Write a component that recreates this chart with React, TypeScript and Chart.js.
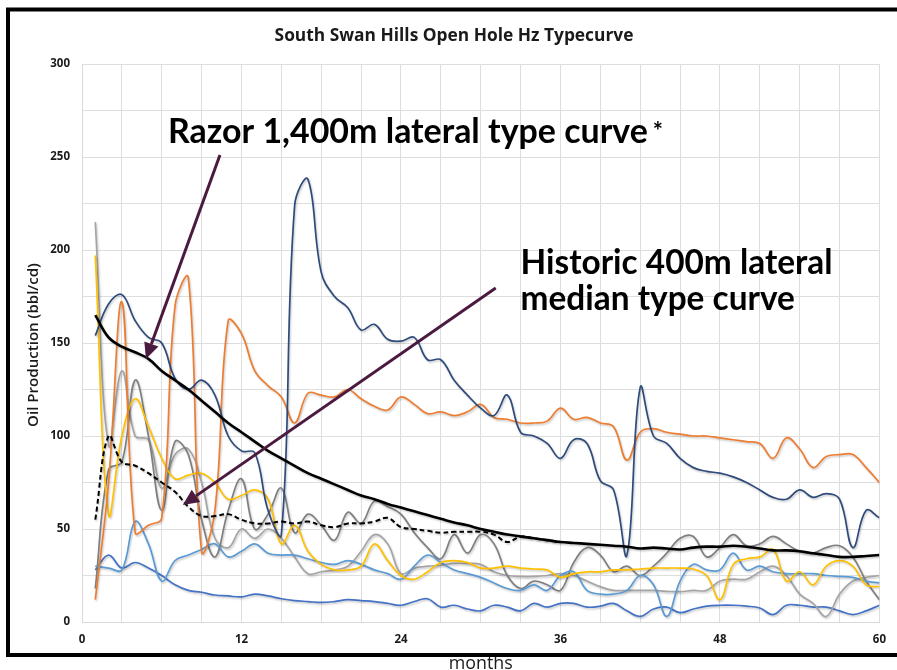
import React, { useEffect, useRef } from "react";
import { Chart, registerables } from "chart.js";

Chart.register(...registerables);

// ---------- data ----------
const MONTHS: number[] = Array.from({ length: 60 }, (_, i) => i + 1);

const TITLE = "South Swan Hills Open Hole Hz Typecurve";
const Y_TITLE = "Oil Production (bbl/cd)";
const X_TITLE = "months";

const X_MIN = 0, X_MAX = 60, X_GRID_STEP = 3, X_LABEL_EVERY = 12;
const Y_MIN = 0, Y_MAX = 300, Y_GRID_STEP = 25, Y_LABEL_EVERY = 50;

const TYPE_CURVE = [165, 153, 148, 145, 141.5, 135, 130, 125, 119, 113, 107, 102, 97, 92, 88, 84, 80, 77, 74, 71, 68, 66, 63.5, 61.5, 59.5, 57.5, 55.5, 53.5, 52, 50, 48.5, 47, 46, 45, 44, 43, 42.5, 42, 41.5, 41, 40.5, 39.5, 40, 39.5, 39, 40, 40.5, 40.5, 41, 40.5, 39.5, 38.5, 38.5, 38, 37, 36, 35, 35, 35.5, 36];

const MEDIAN_CURVE = [55, 100, 86, 84, 80, 75, 70, 62, 57, 57, 58, 55, 53, 53, 54, 53, 54, 52, 51, 53, 53, 54, 56, 51, 50, 49, 48, 48.5, 48.5, 48.5, 47, 43, 46, 45, 44, 43, null, null, null, null, null, null, null, null, null, null, null, null, null, null, null, null, null, null, null, null, null, null, null, null];

const WELL_NAVY = [154, 171, 176, 162, 153, 150, 131, 125, 130, 122, 100, 92, 91, 60, 47, 224, 238, 188, 175, 169, 157, 160, 152, 151, 153, 141, 141, 130, 122, 115, 111, 122, 102, 100, 96, 88, 98, 96, 76, 71, 36, 126, 100, 96, 88, 83, 81, 80, 78, 75, 71, 67, 66, 71, 67, 69, 66, 40, 60, 56];

const WELL_ORANGE = [12, 75, 172, 48, 52, 56, 170, 185, 38, 60, 162, 155, 135, 127, 121, 107, 123, 122, 121, 125, 120, 116, 114, 121, 117, 112, 113, 111, 113, 117, 110, 109, 107, 107, 108, 115, 109, 110, 107, 105, 87, 102, 104, 102, 101, 100, 100, 99, 98, 97, 96, 88, 99, 93, 83, 89, 90, 90, 83, 75];

const WELL_YELLOW = [197, 58, 100, 120, 105, 88, 77, 79, 80, 75, 66, 68, 71, 66, 42, 52, 38, 31, 28, 28, 30, 42, 33, 25, 23, 27, 32, 33, 32, 29, 29, 30, 29, 28.5, 28, 24, 26, 27, 27, 28, 28, 28.5, 29, 29, 29, 28.5, 25, 12, 31, 34, 35, 39, 22, 27, 20, 30, 33, 30, 20, 19];

const WELL_LIGHTBLUE = [30, 29, 28, 54, 42, 22, 33, 36, 39, 42, 35, 38, 42, 37, 36, 36, 34, 32, 31, 33, 31, 28, 26, 23, 30, 36, 32, 28, 26, 24, 21, 18, 17, 20, 17, 25, 27, 17, 15, 15, 17, 25, 20, 3, 22, 31, 28, 28, 37, 28, 30, 27, 26, 26, 26, 25, 24.5, 24, 22, 21];

const WELL_BLUE = [28, 36, 29, 32, 29, 25, 20, 17, 16, 14.5, 14, 13.5, 15, 14, 12.5, 11.5, 11, 10.5, 11, 12, 11.5, 11, 10, 9, 11, 12.5, 8, 9, 7, 6, 9, 8, 6, 10, 8, 10, 10, 8, 8.5, 10, 6, 3, 7, 8, 5, 7, 8.5, 9, 9, 8.5, 7.5, 4, 9, 9, 8, 8, 6, 4, 6, 9];

const WELL_DARKGRAY = [18, 82, 86, 130, 100, 60, 97, 90, 55, 35, 60, 77, 50, 58, 72, 48, 58, 52, 44, 59, 53, 65, 62, 58, 48, 40, 34, 47, 37, 47, 42, 25, 18, 22, 20, 17, 32, 40, 36, 27, 30, 25, 30, 37, 45, 46, 35, 40, 47, 41, 42, 46, 42, 38, 37, 40, 41, 35, 22, 12];

const WELL_LIGHTGRAY = [215, 95, 135, 100, 98, 72, 90, 93, 75, 45, 40, 50, 45, 50, 45, 35, 26, 27, 28, 30, 38, 47, 42, 26, 29, 30, 30.5, 31.5, 31.5, 31, 27, 25, 24.5, 24.5, 25, 26, 25, 22, 19, 17, 17, 17, 17, 16.5, 16.3, 17, 17, 22, 23, 23, 27, 30, 25, 15, 10, 3, 15, 22, 24, 25];

// annotations (in data coordinates: [month, bbl/cd])
const RAZOR_LABEL = "Razor 1,400m lateral type curve";
const RAZOR_LABEL_POS = [6.47, 257.5];
const HISTORIC_LABEL = ["Historic 400m lateral", "median type curve"];
const HISTORIC_LABEL_POS = [[33.0, 187], [33.0, 167.5]];
const ARROWS = [
  { from: [10.38, 251.1], to: [4.81, 141.4] },
  { from: [31.13, 179.6], to: [7.59, 62.9] },
];

// ---------- helpers ----------
const pts = (arr: (number | null)[]) => MONTHS.map((m, i) => ({ x: m, y: arr[i] }));

function fitSize(ctx: CanvasRenderingContext2D, text: string, weight: string, family: string, target: number) {
  ctx.font = `${weight} 40px ${family}`;
  const w = ctx.measureText(text).width;
  return (40 * target) / w;
}

const decorPlugin = {
  id: "decor",
  beforeDatasetDraw(chart: any) {
    const ctx = chart.ctx;
    ctx.save();
    ctx.shadowColor = "rgba(0,0,0,0.22)";
    ctx.shadowBlur = 2;
    ctx.shadowOffsetX = 1;
    ctx.shadowOffsetY = 1.5;
  },
  afterDatasetDraw(chart: any) {
    chart.ctx.restore();
  },
  afterDraw(chart: any) {
    const ctx: CanvasRenderingContext2D = chart.ctx;
    const xs = chart.scales.x, ys = chart.scales.y;
    const ca = chart.chartArea;
    ctx.save();

    // title
    ctx.fillStyle = "#1a1a1a";
    ctx.textAlign = "center";
    ctx.textBaseline = "alphabetic";
    let s = fitSize(ctx, TITLE, "bold", "'Open Sans'", 359);
    ctx.font = `bold ${s}px 'Open Sans'`;
    ctx.fillText(TITLE, 454, 41);

    // y title
    s = fitSize(ctx, Y_TITLE, "600", "'Open Sans'", 164);
    ctx.save();
    ctx.translate(38, (ca.top + ca.bottom) / 2 + 2);
    ctx.rotate(-Math.PI / 2);
    ctx.font = `600 ${s}px 'Open Sans'`;
    ctx.fillText(Y_TITLE, 0, 0);
    ctx.restore();

    // x title
    s = fitSize(ctx, X_TITLE, "normal", "'Open Sans'", 64);
    ctx.font = `normal ${s}px 'Open Sans'`;
    ctx.fillText(X_TITLE, (ca.left + ca.right) / 2, 669);

    // frame
    ctx.strokeStyle = "#000";
    ctx.lineWidth = 4;
    ctx.beginPath();
    ctx.moveTo(900, 9.5);
    ctx.lineTo(8, 9.5);
    ctx.lineTo(8, 655);
    ctx.lineTo(900, 655);
    ctx.stroke();

    // arrows
    ctx.strokeStyle = "#4a1a3f";
    ctx.fillStyle = "#4a1a3f";
    ctx.lineWidth = 3;
    ARROWS.forEach((a) => {
      const x1 = xs.getPixelForValue(a.from[0]), y1 = ys.getPixelForValue(a.from[1]);
      const x2 = xs.getPixelForValue(a.to[0]), y2 = ys.getPixelForValue(a.to[1]);
      const ang = Math.atan2(y2 - y1, x2 - x1);
      const L = 16, W = 7.5;
      const bx = x2 - L * Math.cos(ang), by = y2 - L * Math.sin(ang);
      ctx.beginPath();
      ctx.moveTo(x1, y1);
      ctx.lineTo(bx, by);
      ctx.stroke();
      ctx.beginPath();
      ctx.moveTo(x2, y2);
      ctx.lineTo(bx + W * Math.sin(ang), by - W * Math.cos(ang));
      ctx.lineTo(bx - W * Math.sin(ang), by + W * Math.cos(ang));
      ctx.closePath();
      ctx.fill();
    });

    // annotation texts
    ctx.fillStyle = "#000";
    ctx.textAlign = "left";
    s = fitSize(ctx, RAZOR_LABEL, "bold", "Lato", 480);
    ctx.font = `bold ${s}px Lato`;
    const rx = xs.getPixelForValue(RAZOR_LABEL_POS[0]);
    const ry = ys.getPixelForValue(RAZOR_LABEL_POS[1]);
    ctx.fillText(RAZOR_LABEL, rx, ry);
    const rw = ctx.measureText(RAZOR_LABEL).width;
    ctx.font = `bold 24px Lato`;
    ctx.fillText("*", rx + rw + 5, ry - 3);

    s = fitSize(ctx, HISTORIC_LABEL[0], "bold", "Lato", 312);
    ctx.font = `bold ${s}px Lato`;
    HISTORIC_LABEL.forEach((t, i) => {
      ctx.fillText(t, xs.getPixelForValue(HISTORIC_LABEL_POS[i][0]), ys.getPixelForValue(HISTORIC_LABEL_POS[i][1]));
    });

    ctx.restore();
  },
};

export default function App() {
  const ref = useRef<HTMLCanvasElement | null>(null);

  useEffect(() => {
    if (!ref.current) return;
    const tickFont = { family: "'Open Sans'", size: 11.5, weight: "bold" as const };
    const line = (data: (number | null)[], color: string, width = 1.7, dash: number[] = []) => ({
      data: pts(data),
      borderColor: color,
      backgroundColor: color,
      borderWidth: width,
      borderDash: dash,
      pointRadius: 0,
      tension: 0.4,
      fill: false,
      spanGaps: false,
    });

    const chart = new Chart(ref.current, {
      type: "line",
      data: {
        datasets: [
          { label: "Razor type curve", ...line(TYPE_CURVE, "#000000", 2.6) },
          { label: "Historic median", ...line(MEDIAN_CURVE, "#000000", 2, [5, 3]) },
          { label: "Well 1", ...line(WELL_NAVY, "#2f4b7c") },
          { label: "Well 2", ...line(WELL_ORANGE, "#ed7d31") },
          { label: "Well 3", ...line(WELL_YELLOW, "#ffc000") },
          { label: "Well 4", ...line(WELL_LIGHTBLUE, "#5b9bd5") },
          { label: "Well 5", ...line(WELL_DARKGRAY, "#7f7f7f") },
          { label: "Well 6", ...line(WELL_LIGHTGRAY, "#a5a5a5") },
          { label: "Well 7", ...line(WELL_BLUE, "#4472c4") },
        ] as any,
      },
      options: {
        animation: false,
        responsive: true,
        maintainAspectRatio: false,
        devicePixelRatio: 1,
        layout: { padding: { left: 0, right: 17, top: 64, bottom: 18 } },
        plugins: {
          legend: { display: false },
          title: { display: false },
          tooltip: { enabled: false },
        },
        scales: {
          x: {
            type: "linear",
            min: X_MIN,
            max: X_MAX,
            afterFit: (sc: any) => {
              sc.height = 30;
            },
            ticks: {
              stepSize: X_GRID_STEP,
              autoSkip: false,
              maxRotation: 0,
              padding: 11,
              color: "#1a1a1a",
              font: tickFont,
              callback: (v: any) => (Number(v) % X_LABEL_EVERY === 0 ? String(v) : ""),
            },
            grid: { color: "#dedede", drawTicks: false, lineWidth: 1 },
            border: { color: "#d9d9d9" },
          },
          y: {
            min: Y_MIN,
            max: Y_MAX,
            afterFit: (sc: any) => {
              sc.width = 82;
            },
            ticks: {
              stepSize: Y_GRID_STEP,
              autoSkip: false,
              padding: 12,
              color: "#1a1a1a",
              font: tickFont,
              callback: (v: any) => (Number(v) % Y_LABEL_EVERY === 0 ? String(v) : ""),
            },
            grid: { color: "#dedede", drawTicks: false, lineWidth: 1 },
            border: { color: "#d9d9d9" },
          },
        },
      } as any,
      plugins: [decorPlugin as any],
    });
    return () => chart.destroy();
  }, []);

  return (
    <div style={{ position: "absolute", left: 0, top: 0, width: 897, height: 670, background: "#fff", overflow: "hidden" }}>
      <canvas ref={ref} />
    </div>
  );
}
